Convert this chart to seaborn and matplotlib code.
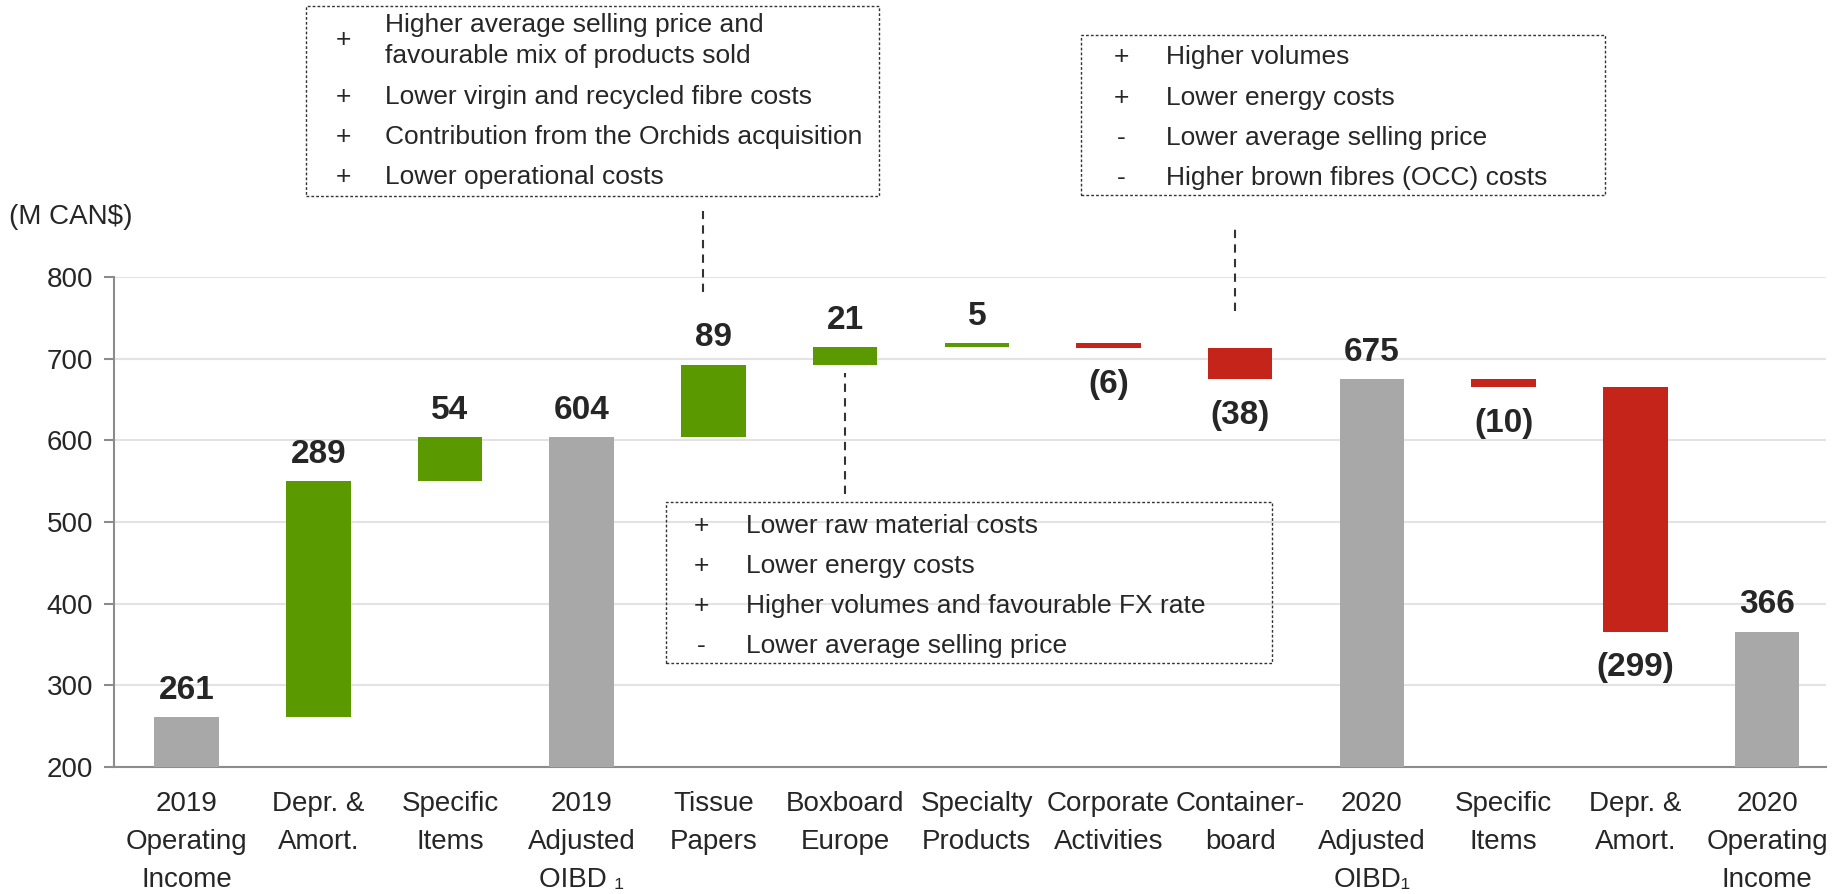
import matplotlib
matplotlib.use("Agg")
import matplotlib.pyplot as plt
import seaborn as sns
import pandas as pd
from matplotlib.patches import Rectangle

# Bridge from 2019 operating income to 2020 operating income (M CAN$)
categories = ["2019\nOperating\nIncome", "Depr. &\nAmort.", "Specific\nItems",
              "2019\nAdjusted\nOIBD \u2081", "Tissue\nPapers", "Boxboard\nEurope",
              "Specialty\nProducts", "Corporate\nActivities", "Container-\nboard",
              "2020\nAdjusted\nOIBD\u2081", "Specific\nItems", "Depr. &\nAmort.",
              "2020\nOperating\nIncome"]
values = [261, 289, 54, 604, 89, 21, 5, -6, -38, 675, -10, -299, 366]
is_total = [True, False, False, True, False, False, False, False, False,
            True, False, False, True]

box_tissue = [("+", "Higher average selling price and\nfavourable mix of products sold"),
              ("+", "Lower virgin and recycled fibre costs"),
              ("+", "Contribution from the Orchids acquisition"),
              ("+", "Lower operational costs")]
box_container = [("+", "Higher volumes"),
                 ("+", "Lower energy costs"),
                 ("-", "Lower average selling price"),
                 ("-", "Higher brown fibres (OCC) costs")]
box_boxboard = [("+", "Lower raw material costs"),
                ("+", "Lower energy costs"),
                ("+", "Higher volumes and favourable FX rate"),
                ("-", "Lower average selling price")]

GRAY, GREEN, RED = "#a8a8a8", "#5a9a00", "#c4241a"

sns.set_theme(style="white")
plt.rcParams["font.family"] = ["Liberation Sans", "DejaVu Sans"]

# waterfall bases / heights
bases, heights, colors, labels = [], [], [], []
running = 0
for v, tot in zip(values, is_total):
    if tot:
        bases.append(0)
        heights.append(v)
        colors.append(GRAY)
        running = v
        labels.append(str(v))
    else:
        if v >= 0:
            bases.append(running)
            heights.append(v)
            colors.append(GREEN)
            labels.append(str(v))
        else:
            bases.append(running + v)
            heights.append(-v)
            colors.append(RED)
            labels.append("(%d)" % -v)
        running += v

df = pd.DataFrame({"pos": list(range(len(values))), "height": heights, "base": bases})

fig = plt.figure(figsize=(18.41, 8.94), dpi=100)
ax = fig.add_axes([0.062, 0.142, 0.930, 0.548])
sns.barplot(data=df, x="pos", y="height", bottom=df["base"].values, width=0.49,
            color=GRAY, ax=ax, zorder=3)
for patch, c in zip(ax.patches, colors):
    patch.set_facecolor(c)
    patch.set_edgecolor("none")

ax.set_ylim(200, 800)
ax.set_xlim(-0.55, 12.45)
ax.set_yticks(range(200, 801, 100))
ax.yaxis.grid(True, color="#e3e3e3", linewidth=1.5, zorder=0)
ax.set_axisbelow(True)
ax.set_xlabel("")
ax.set_ylabel("")
ax.set_xticks(range(len(categories)))
ax.set_xticklabels(categories, fontsize=20, linespacing=1.6)
ax.tick_params(axis="x", length=0, pad=17)
ax.tick_params(axis="y", length=7, width=1.5, color="#8c8c8c", labelsize=20, pad=8,
               direction="out", left=True)
for s in ["top", "right"]:
    ax.spines[s].set_visible(False)
for s in ["left", "bottom"]:
    ax.spines[s].set_color("#8c8c8c")
    ax.spines[s].set_linewidth(1.5)

# value labels
for i, (b, h, lab) in enumerate(zip(bases, heights, labels)):
    if lab.startswith("("):
        ax.annotate(lab, (i, b), xytext=(0, -15), textcoords="offset points",
                    ha="center", va="top", fontsize=24, fontweight="bold")
    else:
        ax.annotate(lab, (i, b + h), xytext=(0, 8), textcoords="offset points",
                    ha="center", va="bottom", fontsize=24, fontweight="bold")

fig.text(0.005, 0.757, "(M CAN$)", fontsize=20, va="center", ha="left")


def note_box(x0, x1, y0, y1, items, sign_x, text_x, centers, link):
    ax.add_patch(Rectangle((x0, y0), x1 - x0, y1 - y0, fill=False, edgecolor="#333333",
                           linestyle=(0, (2, 1.5)), linewidth=1, clip_on=False, zorder=5))
    for (sign, txt), yc in zip(items, centers):
        ax.text(sign_x, yc, sign, fontsize=19, ha="center", va="center", clip_on=False)
        ax.text(text_x, yc, txt, fontsize=19, ha="left", va="center", clip_on=False,
                linespacing=1.35)
    lx, ly0, ly1 = link
    ax.plot([lx, lx], [ly0, ly1], color="#333333", linestyle=(0, (4, 3)), linewidth=1.5,
            clip_on=False)


note_box(0.91, 5.26, 899, 1132, box_tissue, 1.19, 1.51,
         [1090, 1021, 972, 923], (3.92, 782, 881))
note_box(6.79, 10.77, 901, 1096, box_container, 7.10, 7.44,
         [1069, 1020, 971, 922], (7.96, 758, 859))
note_box(3.64, 8.24, 327, 524, box_boxboard, 3.91, 4.25,
         [495, 446, 397, 348], (5.0, 535, 682))

fig.savefig("out.png", dpi=100)
